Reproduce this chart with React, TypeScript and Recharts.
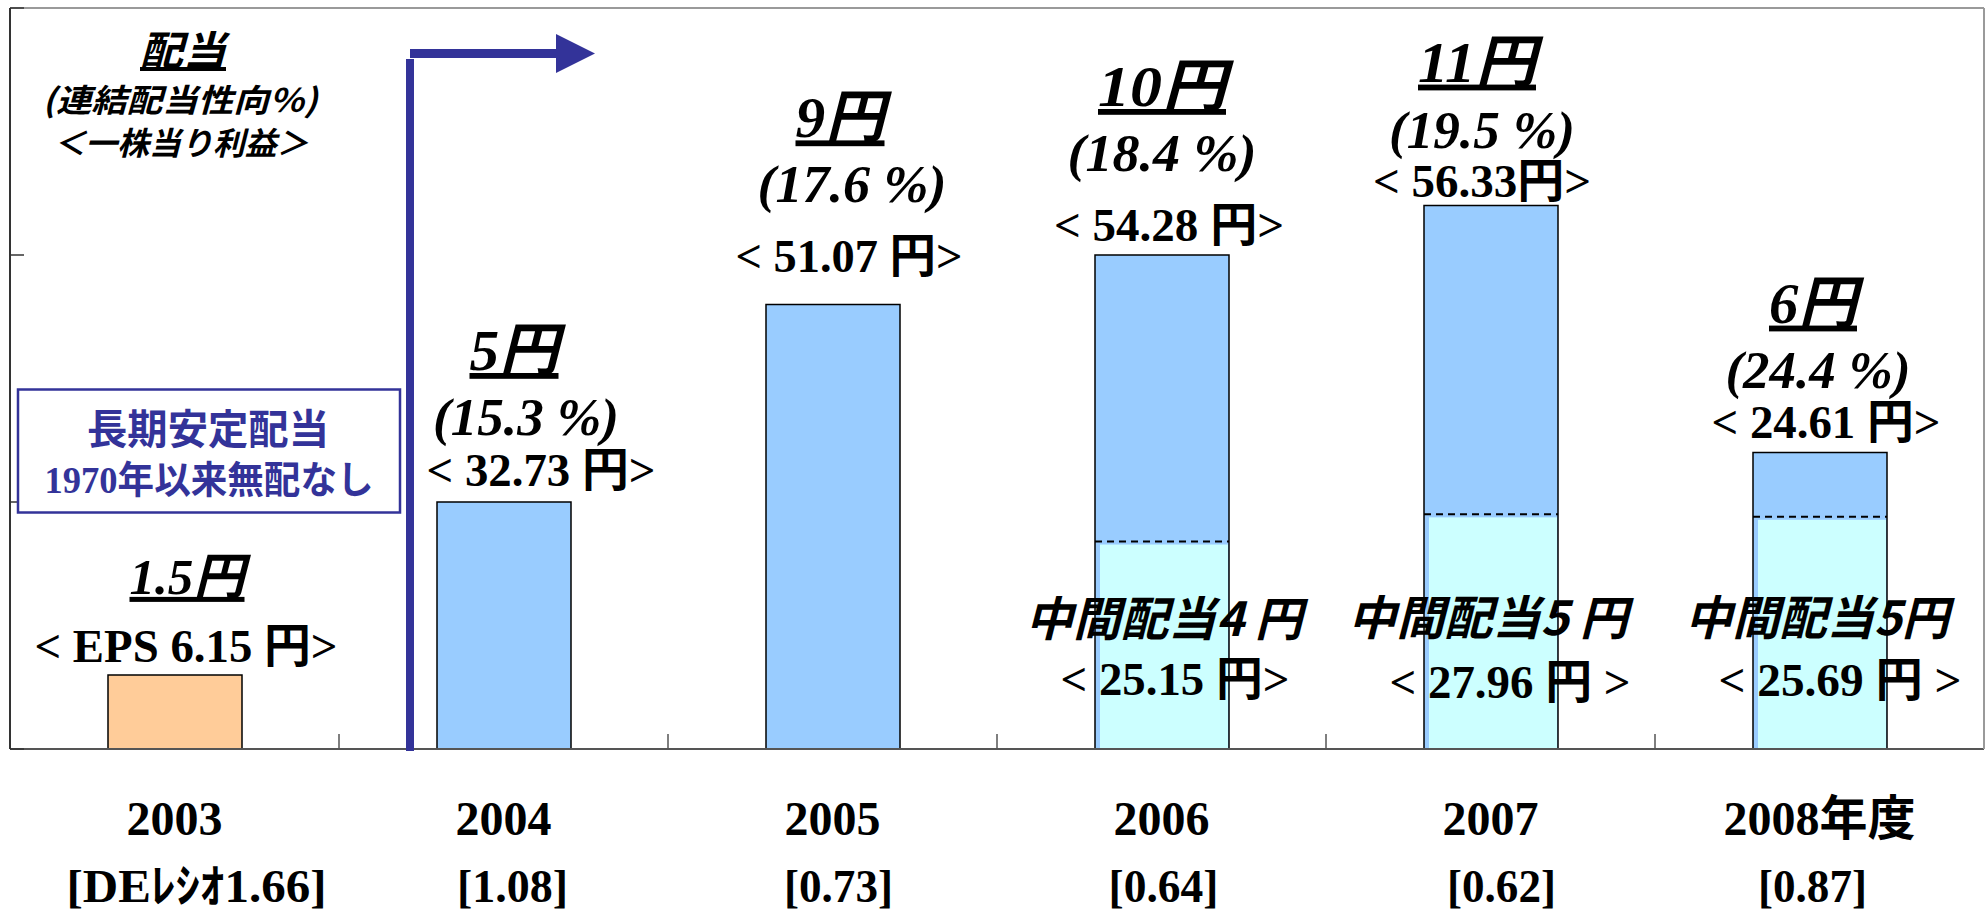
import React from 'react';
import { ComposedChart, Bar, XAxis, YAxis, Cell, LabelList } from 'recharts';

// ---------- data ----------
const years = ['2003', '2004', '2005', '2006', '2007', '2008年度'];
const dividend = [1.5, 5, 9, 10, 11, 6];
const interimDividend: (number | null)[] = [null, null, null, 4.2, 4.75, 4.7];
const dividendLabels = ['1.5円', '5円', '9円', '10円', '11円', '6円'];
const payoutLabels: (string | null)[] = [null, '(15.3 %)', '(17.6 %)', '(18.4 %)', '(19.5 %)', '(24.4 %)'];
const epsLabels = ['< EPS 6.15 円>', '< 32.73 円>', '< 51.07 円>', '< 54.28 円>', '< 56.33円>', '< 24.61 円>'];
const interimLabels: (string | null)[] = [null, null, null, '中間配当4 円', '中間配当5 円', '中間配当5円'];
const interimEpsLabels: (string | null)[] = [null, null, null, '< 25.15 円>', '< 27.96 円 >', '< 25.69 円 >'];
const deRatioLabels = ['[DEﾚｼｵ1.66]', '[1.08]', '[0.73]', '[0.64]', '[0.62]', '[0.87]'];
const yTicks = [0, 5, 10, 15];

const chartData = years.map((year, i) => ({
  year,
  dividend: dividend[i],
  interim: interimDividend[i],
}));

// ---------- styling / label layout ----------
const SERIF = "'Liberation Serif', 'Noto Sans CJK JP', serif";
const GOTHIC = "'Noto Sans CJK JP', 'Noto Sans CJK SC', sans-serif";
const NAVY = '#333399';
const BAR_BLUE = '#99CCFF';
const BAR_PEACH = '#FFCC99';
const BAR_CYAN = '#CCFFFF';
const BAR_SIZE = 134;

// [dx from bar centre, dy of baseline from bar top, text length]
const DIV_POS = [[12, -81, 115], [10, -132, 89], [7, -167, 89], [0, -149, 128], [-14, -124, 118], [-7, -130, 88]];
const DIV_FS = [50, 58, 58, 58, 58, 58];
const PCT_POS: (number[] | null)[] = [null, [22, -67, 186], [19, -102, 189], [0, -84, 189], [-9, -58, 186], [-2, -65, 185]];
const EPS_POS = [[11, -13, 303], [37, -16, 229], [16, -32, 227], [7, -14, 230], [-9, -9, 218], [6, -15, 229]];
// [dx from bar centre, dy of baseline from bar bottom, text length]
const INT_POS: (number[] | null)[] = [null, null, null, [2, -113, 277], [-3, -114, 280], [-3, -114, 264]];
const INT_EPS_POS: (number[] | null)[] = [null, null, null, [13, -54, 229], [19, -51, 241], [20, -53, 243]];
// [dx from tick, text length]
const DE_POS = [[22, 260], [9, 111], [6, 109], [2, 110], [11, 109], [-7, 109]];

const EmptyTick = () => <g />;

const yearAccessor = (entry: any, index: number) => (entry && entry.payload && entry.payload.year) || years[index];

const catIndex = (props: any): number => {
  if (typeof props.value === 'string') {
    const k = years.indexOf(props.value);
    if (k >= 0) return k;
  }
  return typeof props.index === 'number' ? props.index : -1;
};

const boxOf = (props: any) => {
  const vb = props.viewBox && typeof props.viewBox.x === 'number' ? props.viewBox : props;
  return { x: Number(vb.x), y: Number(vb.y), width: Number(vb.width), height: Number(vb.height) };
};

const TopLabels = (props: any) => {
  const i = catIndex(props);
  if (i < 0 || i >= years.length) return null;
  const { x, y, width } = boxOf(props);
  if (!isFinite(x) || !isFinite(y)) return null;
  const cx = x + width / 2;
  const d = DIV_POS[i];
  const p = PCT_POS[i];
  const e = EPS_POS[i];
  return (
    <g>
      <text
        x={cx + d[0]}
        y={y + d[1]}
        textAnchor="middle"
        fontFamily={SERIF}
        fontStyle="italic"
        fontWeight="bold"
        fontSize={DIV_FS[i]}
        textLength={d[2]}
        lengthAdjust="spacingAndGlyphs"
        fill="#000"
        style={{ textDecoration: 'underline' }}
      >
        {dividendLabels[i]}
      </text>
      {p && payoutLabels[i] ? (
        <text
          x={cx + p[0]}
          y={y + p[1]}
          textAnchor="middle"
          fontFamily={SERIF}
          fontStyle="italic"
          fontWeight="bold"
          fontSize={52}
          textLength={p[2]}
          lengthAdjust="spacingAndGlyphs"
          fill="#000"
        >
          {payoutLabels[i]}
        </text>
      ) : null}
      <text
        x={cx + e[0]}
        y={y + e[1]}
        textAnchor="middle"
        fontFamily={SERIF}
        fontWeight="bold"
        fontSize={47}
        textLength={e[2]}
        lengthAdjust="spacingAndGlyphs"
        fill="#000"
      >
        {epsLabels[i]}
      </text>
    </g>
  );
};

const InterimLabels = (props: any) => {
  const i = catIndex(props);
  if (i < 0 || i >= years.length || !interimLabels[i]) return null;
  const { x, y, width, height } = boxOf(props);
  if (!isFinite(x) || !isFinite(y) || !isFinite(height)) return null;
  const cx = x + width / 2;
  const base = y + height;
  const a = INT_POS[i] as number[];
  const b = INT_EPS_POS[i] as number[];
  return (
    <g>
      <text
        x={cx + a[0]}
        y={base + a[1]}
        textAnchor="middle"
        fontFamily={GOTHIC}
        fontStyle="italic"
        fontWeight="bold"
        fontSize={47}
        textLength={a[2]}
        lengthAdjust="spacingAndGlyphs"
        fill="#000"
      >
        {interimLabels[i]}
      </text>
      <text
        x={cx + b[0]}
        y={base + b[1]}
        textAnchor="middle"
        fontFamily={SERIF}
        fontWeight="bold"
        fontSize={47}
        textLength={b[2]}
        lengthAdjust="spacingAndGlyphs"
        fill="#000"
      >
        {interimEpsLabels[i]}
      </text>
    </g>
  );
};

const InterimShape = (props: any) => {
  const { x, y, width, height } = props;
  if (!isFinite(x) || !isFinite(y) || !height || height <= 0) return null;
  return (
    <g>
      <rect x={x + 5} y={y + 3} width={width - 6} height={height - 3} fill={BAR_CYAN} />
      <line x1={x} x2={x + width} y1={y} y2={y} stroke="#000" strokeWidth={2} strokeDasharray="7 5" />
    </g>
  );
};

const renderCategoryTick = (props: any) => {
  const { x, y, payload, width } = props;
  const i = years.indexOf(payload.value);
  const de = DE_POS[i] || [0, 100];
  const half =
    payload && typeof payload.offset === 'number' && payload.offset > 0
      ? payload.offset
      : Number(width) / (2 * years.length);
  return (
    <g>
      {i < years.length - 1 && isFinite(half) ? (
        <line x1={x + half} x2={x + half} y1={y - 15} y2={y} stroke="#555" strokeWidth={1.5} />
      ) : null}
      <text x={x} y={y + 86} textAnchor="middle" fontFamily={SERIF} fontWeight="bold" fontSize={48} fill="#000">
        {payload.value}
      </text>
      <text
        x={x + de[0]}
        y={y + 153}
        textAnchor="middle"
        fontFamily={SERIF}
        fontWeight="bold"
        fontSize={46}
        textLength={de[1]}
        lengthAdjust="spacingAndGlyphs"
        fill="#000"
      >
        {deRatioLabels[i]}
      </text>
    </g>
  );
};

const Annotations = () => (
  <svg
    width={1988}
    height={920}
    style={{ position: 'absolute', left: 0, top: 0, pointerEvents: 'none' }}
  >
    {/* legend (top-left) */}
    <text
      x={183}
      y={65}
      textAnchor="middle"
      fontFamily={GOTHIC}
      fontStyle="italic"
      fontWeight="bold"
      fontSize={40}
      textLength={86}
      lengthAdjust="spacingAndGlyphs"
      fill="#000"
      style={{ textDecoration: 'underline' }}
    >
      配当
    </text>
    <text
      x={180}
      y={112}
      textAnchor="middle"
      fontFamily={GOTHIC}
      fontStyle="italic"
      fontWeight="bold"
      fontSize={32}
      textLength={275}
      lengthAdjust="spacingAndGlyphs"
      fill="#000"
    >
      (連結配当性向％)
    </text>
    <text
      x={181}
      y={155}
      textAnchor="middle"
      fontFamily={GOTHIC}
      fontStyle="italic"
      fontWeight="bold"
      fontSize={32}
      textLength={255}
      lengthAdjust="spacingAndGlyphs"
      fill="#000"
    >
      ＜一株当り利益＞
    </text>

    {/* policy box */}
    <rect x={18} y={389.5} width={382} height={123} fill="#fff" stroke={NAVY} strokeWidth={2.5} />
    <text
      x={208}
      y={444}
      textAnchor="middle"
      fontFamily={GOTHIC}
      fontWeight="bold"
      fontSize={41}
      textLength={242}
      lengthAdjust="spacingAndGlyphs"
      fill={NAVY}
    >
      長期安定配当
    </text>
    <text
      x={209}
      y={493}
      textAnchor="middle"
      fontFamily={SERIF}
      fontWeight="bold"
      fontSize={38}
      textLength={329}
      lengthAdjust="spacingAndGlyphs"
      fill={NAVY}
    >
      1970年以来無配なし
    </text>

    {/* arrow */}
    <rect x={406} y={59} width={8} height={692} fill={NAVY} />
    <rect x={410} y={49} width={147} height={9} fill={NAVY} />
    <polygon points="556,34 595,53.5 556,73" fill={NAVY} />
  </svg>
);

export default function App() {
  return (
    <div style={{ position: 'absolute', left: 0, top: 0, width: 1988, height: 920, background: '#fff' }}>
      <ComposedChart
        width={1988}
        height={920}
        data={chartData}
        margin={{ top: 7, right: 3, bottom: 0, left: 10 }}
        barGap={-BAR_SIZE}
      >
        <XAxis
          xAxisId="top"
          orientation="top"
          dataKey="year"
          height={1}
          interval={0}
          tick={false}
          tickLine={false}
          axisLine={{ stroke: '#9a9a9a', strokeWidth: 2 }}
        />
        <XAxis
          dataKey="year"
          height={171}
          interval={0}
          tickSize={0}
          tickMargin={0}
          tickLine={false}
          axisLine={{ stroke: '#555', strokeWidth: 2 }}
          tick={renderCategoryTick}
        />
        <YAxis
          domain={[0, 15]}
          ticks={yTicks}
          allowDataOverflow
          mirror
          width={1}
          interval={0}
          tickSize={14}
          tick={EmptyTick}
          tickLine={{ stroke: '#333', strokeWidth: 1.5 }}
          axisLine={{ stroke: '#333', strokeWidth: 2 }}
        />
        <YAxis
          yAxisId="right"
          orientation="right"
          domain={[0, 15]}
          ticks={yTicks}
          width={1}
          interval={0}
          tick={false}
          tickLine={false}
          axisLine={{ stroke: '#9a9a9a', strokeWidth: 2 }}
        />
        <Bar dataKey="dividend" barSize={BAR_SIZE} stroke="#000" strokeWidth={1.5} isAnimationActive={false}>
          {chartData.map((row, i) => (
            <Cell key={row.year} fill={i === 0 ? BAR_PEACH : BAR_BLUE} />
          ))}
          <LabelList valueAccessor={yearAccessor} content={TopLabels} />
        </Bar>
        <Bar dataKey="interim" barSize={BAR_SIZE} shape={InterimShape} isAnimationActive={false}>
          <LabelList valueAccessor={yearAccessor} content={InterimLabels} />
        </Bar>
      </ComposedChart>
      <Annotations />
    </div>
  );
}
